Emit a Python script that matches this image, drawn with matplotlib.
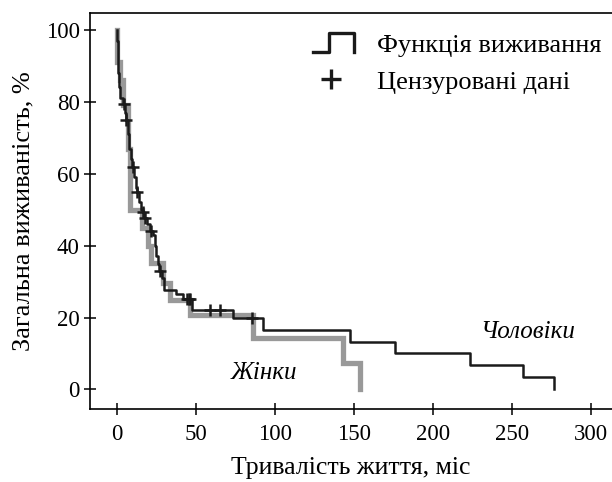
import numpy as np
import matplotlib
matplotlib.use("Agg")
from matplotlib import pyplot as plt
from matplotlib.lines import Line2D
from matplotlib.legend_handler import HandlerBase

plt.rcParams['font.family'] = ['Liberation Serif', 'DejaVu Serif']

# men (black) survival steps, time in months -> survival %
men_t = [0, 0.3, 0.6, 1.0, 1.5, 2.2, 4.0, 5.5, 6.0, 7.0, 8.0, 9.0, 9.6, 11.0, 12.0,
         12.6, 14.0, 15.5, 16.5, 17.5, 19.0, 21.0, 23.0, 24.0, 25.0, 26.0, 27.0,
         28.5, 30.0, 37.5, 42.0, 47.5, 73.8, 92.7, 147.5, 176.0, 223.4, 257.2, 276.6]
men_s = [100, 97, 93, 88, 84, 81, 79.5, 77, 75, 71, 67, 64, 62, 59, 56,
         55, 52, 50, 49.4, 47.6, 46, 44, 43, 40, 37, 35, 33,
         31, 27.6, 26.5, 25.2, 22.1, 19.8, 16.5, 13.3, 10.2, 6.8, 3.5, 0]
men_cens = [4.8, 6.2, 10.2, 12.8, 16.8, 17.9, 22.0, 27.4, 44.5, 45.5, 46.4, 59.0, 65.4, 85.4]

# women (gray) survival steps
women_t = [0, 0.3, 2.0, 4.0, 7.0, 8.5, 15.8, 20.0, 21.5, 29.0, 33.7, 46.4, 86.4, 143.4, 153.8]
women_s = [100, 91, 86, 79, 67, 50, 45, 40, 35.2, 29.7, 24.8, 20.7, 14.3, 7.3, 0]

x_ticks = [0, 50, 100, 150, 200, 250, 300]
y_ticks = [0, 20, 40, 60, 80, 100]


class StepHandler(HandlerBase):
    def create_artists(self, legend, orig_handle, xdescent, ydescent,
                       width, height, fontsize, trans):
        x0 = -xdescent + width * 0.1
        w = width * 0.9
        lo = -ydescent + height * 0.0
        hi = -ydescent + height * 1.05
        xs = [x0, x0 + 0.38 * w, x0 + 0.38 * w, x0 + w, x0 + w]
        ys = [lo, lo, hi, hi, lo]
        ln = Line2D(xs, ys, color='#1a1a1a', lw=2.4, transform=trans)
        return [ln]


fig = plt.figure(figsize=(6.12, 4.82), dpi=100)
ax = fig.add_axes([0.147, 0.151, 0.853, 0.822])

ax.step(women_t, women_s, where='post', color='#999999', lw=3.8, zorder=2,
        solid_joinstyle='miter')
ax.step(men_t, men_s, where='post', color='#1a1a1a', lw=1.8, zorder=3)

idx = np.searchsorted(men_t, men_cens, side='right') - 1
cens_s = np.array(men_s)[idx]
ax.plot(men_cens, cens_s, ls='none', marker='+', ms=9, mew=1.8,
        color='#1a1a1a', zorder=4)

ax.text(260, 16, 'Чоловіки', fontsize=18, style='italic', ha='center', va='center')
ax.text(93, 4.5, 'Жінки', fontsize=18, style='italic', ha='center', va='center')

ax.set_xlim(-16.9, 313.3)
ax.set_ylim(-5.5, 104.7)
ax.set_xticks(x_ticks)
ax.set_yticks(y_ticks)
ax.tick_params(direction='inout', length=9, width=1.1, labelsize=16.5)
ax.tick_params(axis='x', pad=6)
ax.tick_params(axis='y', pad=3)
for side in ['left', 'bottom', 'top']:
    ax.spines[side].set_linewidth(1.2)
ax.spines['right'].set_visible(False)

ax.set_xlabel('Тривалість життя, міс', fontsize=18.5, labelpad=9)
ax.set_ylabel('Загальна виживаність, %', fontsize=19, labelpad=8)

step_h = Line2D([], [], color='#1a1a1a')
cens_h = Line2D([], [], ls='none', marker='+', ms=14, mew=2.4, color='#1a1a1a')
ax.legend([step_h, cens_h], ['Функція виживання', 'Цензуровані дані'],
          handler_map={step_h: StepHandler()}, loc='upper right',
          bbox_to_anchor=(1.016, 0.995), frameon=False, fontsize=19,
          handlelength=1.7, handletextpad=0.9, labelspacing=0.5,
          borderaxespad=0.3)

fig.savefig('out.png', dpi=100)
